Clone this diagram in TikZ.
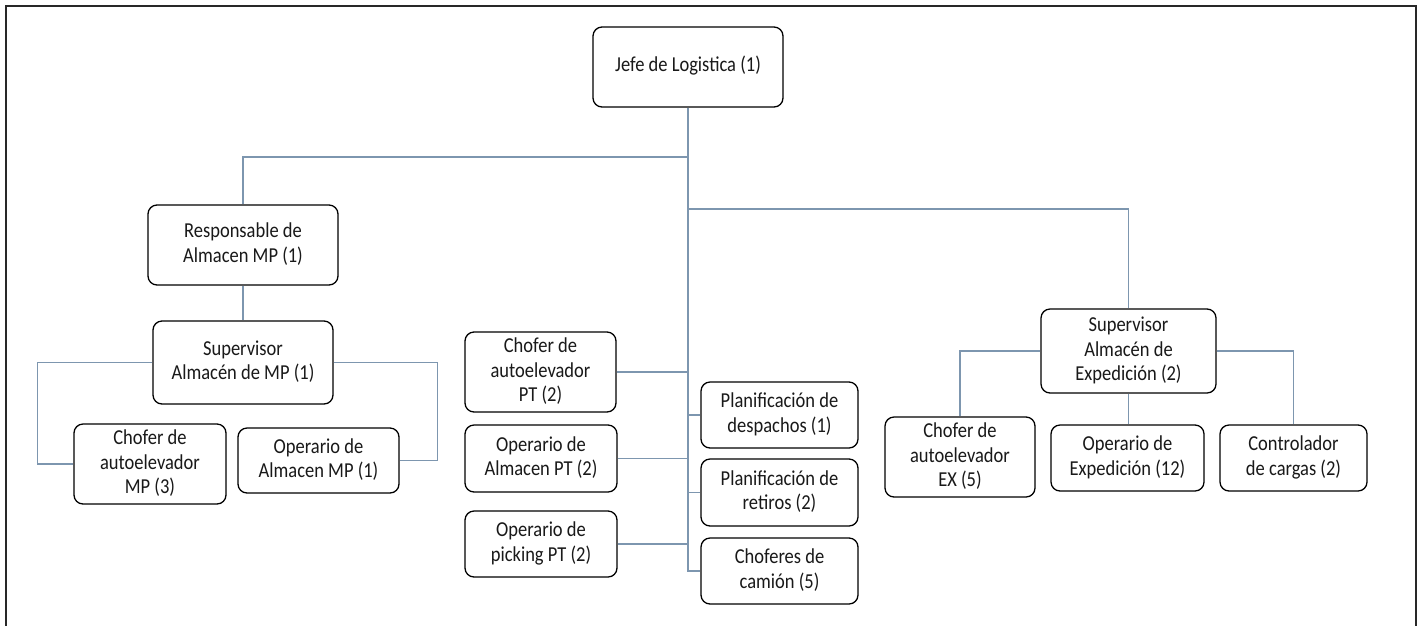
\documentclass[tikz,border=0pt]{standalone}
\usepackage{fontspec}
\usepackage{graphicx}
\setmainfont{Carlito}
% box labels: lines centred, letters set slightly tall
\newcommand\boxlabel[1]{\scalebox{1}[1.15]{\begin{tabular}{@{}c@{}}#1\end{tabular}}}
\begin{document}
\definecolor{linkblue}{RGB}{125,150,175}
\definecolor{framegray}{RGB}{40,40,40}
\begin{tikzpicture}[x=1pt,y=-1pt,
  orgbox/.style={draw=black, line width=1.3pt, rounded corners=9pt, fill=white,
    align=center, inner sep=2pt, text=black!90,
    font=\fontsize{18.5}{21.7}\selectfont},
  link/.style={draw=linkblue, line width=1.4pt},
  trunk/.style={draw=linkblue, line width=2pt}]
\useasboundingbox (0,0) rectangle (1423,625);
% outer frame, open at the bottom
\draw[framegray, line width=2pt] (5.5,626) -- (5.5,6) -- (1416,6) -- (1416,626);

% head
\node[orgbox, minimum width=190pt, minimum height=80pt] (jefe) at (688,67) {\boxlabel{Jefe de Logistica (1)}};

% raw material warehouse
\node[orgbox, minimum width=190pt, minimum height=80pt] (resp) at (243,245) {\boxlabel{Responsable de\\Almacen MP (1)}};
\node[orgbox, minimum width=180pt, minimum height=83pt] (supmp) at (243,362.5) {\boxlabel{Supervisor\\Almacén de MP (1)}};
\node[orgbox, minimum width=152pt, minimum height=80pt] (chmp) at (150,464) {\boxlabel{Chofer de\\autoelevador\\MP (3)}};
\node[orgbox, minimum width=161pt, minimum height=65pt] (opmp) at (318.5,460.5) {\boxlabel{Operario de\\Almacen MP (1)}};

% finished product staff
\node[orgbox, minimum width=151pt, minimum height=80pt] (chpt) at (540.5,372) {\boxlabel{Chofer de\\autoelevador\\PT (2)}};
\node[orgbox, minimum width=152pt, minimum height=67pt] (oppt) at (541,458.5) {\boxlabel{Operario de\\Almacen PT (2)}};
\node[orgbox, minimum width=152pt, minimum height=66pt] (pkpt) at (541,544) {\boxlabel{Operario de\\picking PT (2)}};

% planning and trucks
\node[orgbox, minimum width=157pt, minimum height=66pt] (pdesp) at (779.5,415) {\boxlabel{Planificación de\\despachos (1)}};
\node[orgbox, minimum width=157pt, minimum height=67pt] (pret) at (779.5,492.5) {\boxlabel{Planificación de\\retiros (2)}};
\node[orgbox, minimum width=157pt, minimum height=66pt] (chcam) at (779.5,571) {\boxlabel{Choferes de\\camión (5)}};

% dispatch warehouse
\node[orgbox, minimum width=175pt, minimum height=84pt] (supex) at (1128.5,351) {\boxlabel{Supervisor\\Almacén de\\Expedición (2)}};
\node[orgbox, minimum width=150pt, minimum height=80pt] (chex) at (960,457) {\boxlabel{Chofer de\\autoelevador\\EX (5)}};
\node[orgbox, minimum width=153pt, minimum height=66pt] (opex) at (1127.5,458) {\boxlabel{Operario de\\Expedición (12)}};
\node[orgbox, minimum width=147pt, minimum height=66pt] (ctrl) at (1293.5,458) {\boxlabel{Controlador\\de cargas (2)}};

% branch points on the trunk
\coordinate (jl) at (688,157);
\coordinate (jr) at (688,209);

% connectors
\draw[trunk] (jefe.south) |- (chcam.west);
\draw[link] (jl) -| (resp.north);
\draw[link] (resp.south) -- (supmp.north);
\draw[link] (supmp.west) -- ++(-115,0) |- (chmp.west);
\draw[link] (supmp.east) -- ++(104,0) |- (opmp.east);
\draw[link] (chpt.east) -- (chpt.east -| jefe.south);
\draw[link] (oppt.east) -- (oppt.east -| jefe.south);
\draw[link] (pkpt.east) -- (pkpt.east -| jefe.south);
\draw[link] (pdesp.west -| jefe.south) -- (pdesp.west);
\draw[link] (pret.west -| jefe.south) -- (pret.west);
\draw[link] (jr) -| (supex.north);
\draw[link] (supex.west) -| (chex.north);
\draw[link] (supex.south) -- (supex.south |- opex.north);
\draw[link] (supex.east) -| (ctrl.north);
\end{tikzpicture}
\end{document}
